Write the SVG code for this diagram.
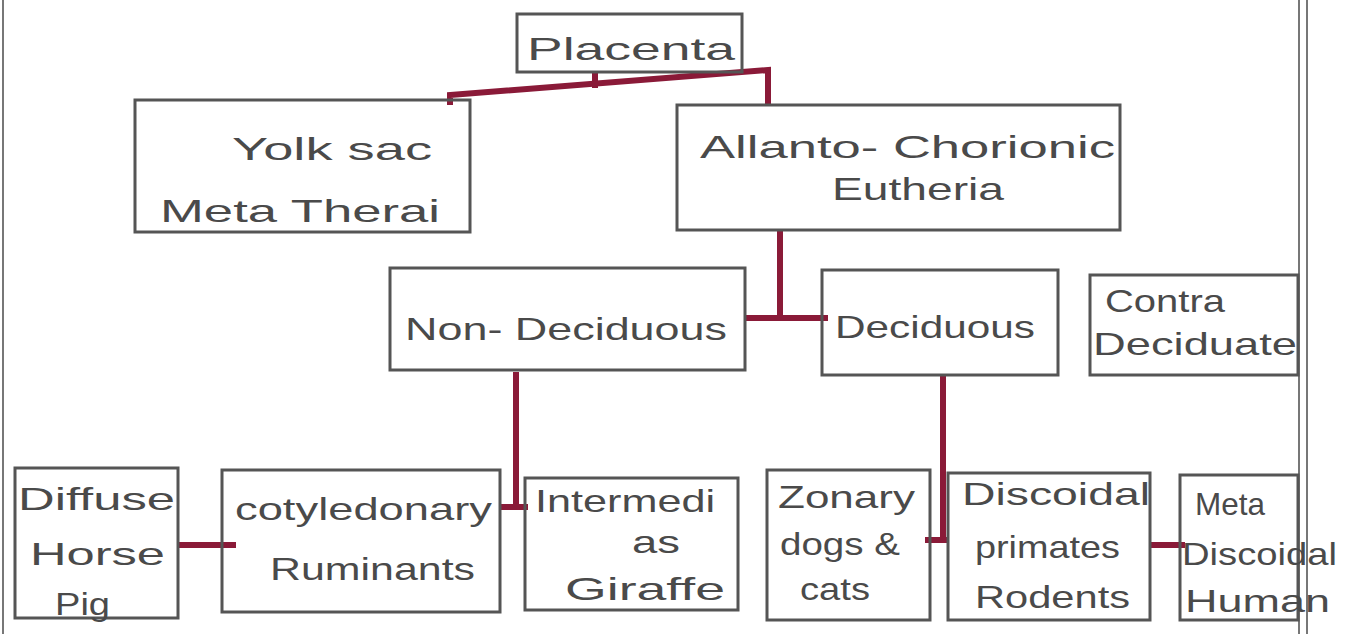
<svg xmlns="http://www.w3.org/2000/svg" width="1352" height="634" viewBox="0 0 1352 634">
  <style>
    .box { fill: none; stroke: #555; stroke-width: 3; }
    .lbl { font-family: "Liberation Sans", "DejaVu Sans", sans-serif; font-size: 32px; fill: #4a4a4a; }
    .link { fill: none; stroke: #8a1a38; stroke-width: 6; stroke-linejoin: miter; }
    .rule { stroke: #777; stroke-width: 2; }
  </style>
  <rect width="1352" height="634" fill="#ffffff"/>

  <!-- page margins -->
  <g id="page">
    <line class="rule" x1="3" y1="0" x2="3" y2="634"/>
    <line class="rule" x1="1299" y1="0" x2="1299" y2="634"/>
    <line class="rule" x1="1307" y1="0" x2="1307" y2="634"/>
  </g>

  <!-- connectors -->
  <g id="connectors">
    <path class="link" d="M595 72 V88"/>
    <path class="link" d="M450 105 V95 L768 70 V105"/>
    <path class="link" d="M780 230 V318"/>
    <path class="link" d="M745 318 H828"/>
    <path class="link" d="M516 372 V507"/>
    <path class="link" d="M500 507 H528"/>
    <path class="link" d="M943 375 V540"/>
    <path class="link" d="M925 540 H948"/>
    <path class="link" d="M178 545 H236"/>
    <path class="link" d="M1150 545 H1185"/>
  </g>

  <g id="placenta">
    <rect class="box" x="517" y="14" width="225" height="58"/>
    <text class="lbl" x="527" y="60" textLength="208" lengthAdjust="spacingAndGlyphs">Placenta</text>
  </g>

  <g id="yolk-sac">
    <rect class="box" x="135" y="100" width="335" height="132"/>
    <text class="lbl" x="232" y="160" textLength="200" lengthAdjust="spacingAndGlyphs">Yolk sac</text>
    <text class="lbl" x="160" y="222" textLength="280" lengthAdjust="spacingAndGlyphs">Meta Therai</text>
  </g>

  <g id="allanto-chorionic">
    <rect class="box" x="677" y="105" width="443" height="125"/>
    <text class="lbl" x="700" y="158" textLength="415" lengthAdjust="spacingAndGlyphs">Allanto- Chorionic</text>
    <text class="lbl" x="832" y="200" textLength="172" lengthAdjust="spacingAndGlyphs">Eutheria</text>
  </g>

  <g id="non-deciduous">
    <rect class="box" x="390" y="268" width="355" height="102"/>
    <text class="lbl" x="405" y="340" textLength="322" lengthAdjust="spacingAndGlyphs">Non- Deciduous</text>
  </g>

  <g id="deciduous">
    <rect class="box" x="822" y="270" width="236" height="105"/>
    <text class="lbl" x="835" y="338" textLength="200" lengthAdjust="spacingAndGlyphs">Deciduous</text>
  </g>

  <g id="contra-deciduate">
    <rect class="box" x="1090" y="275" width="208" height="100"/>
    <text class="lbl" x="1105" y="312" textLength="120" lengthAdjust="spacingAndGlyphs">Contra</text>
    <text class="lbl" x="1093" y="355" textLength="204" lengthAdjust="spacingAndGlyphs">Deciduate</text>
  </g>

  <g id="diffuse">
    <rect class="box" x="15" y="468" width="163" height="150"/>
    <text class="lbl" x="18" y="510" textLength="157" lengthAdjust="spacingAndGlyphs">Diffuse</text>
    <text class="lbl" x="30" y="565" textLength="135" lengthAdjust="spacingAndGlyphs">Horse</text>
    <text class="lbl" x="55" y="615" textLength="55" lengthAdjust="spacingAndGlyphs">Pig</text>
  </g>

  <g id="cotyledonary">
    <rect class="box" x="222" y="470" width="278" height="142"/>
    <text class="lbl" x="235" y="520" textLength="257" lengthAdjust="spacingAndGlyphs">cotyledonary</text>
    <text class="lbl" x="270" y="580" textLength="205" lengthAdjust="spacingAndGlyphs">Ruminants</text>
  </g>

  <g id="intermediate">
    <rect class="box" x="525" y="478" width="213" height="132"/>
    <text class="lbl" x="535" y="512" textLength="180" lengthAdjust="spacingAndGlyphs">Intermedi</text>
    <text class="lbl" x="632" y="553" textLength="48" lengthAdjust="spacingAndGlyphs">as</text>
    <text class="lbl" x="565" y="600" textLength="160" lengthAdjust="spacingAndGlyphs">Giraffe</text>
  </g>

  <g id="zonary">
    <rect class="box" x="767" y="470" width="163" height="150"/>
    <text class="lbl" x="778" y="508" textLength="137" lengthAdjust="spacingAndGlyphs">Zonary</text>
    <text class="lbl" x="780" y="555" textLength="120" lengthAdjust="spacingAndGlyphs">dogs &amp;</text>
    <text class="lbl" x="800" y="600" textLength="70" lengthAdjust="spacingAndGlyphs">cats</text>
  </g>

  <g id="discoidal">
    <rect class="box" x="948" y="473" width="202" height="147"/>
    <text class="lbl" x="962" y="505" textLength="188" lengthAdjust="spacingAndGlyphs">Discoidal</text>
    <text class="lbl" x="975" y="558" textLength="145" lengthAdjust="spacingAndGlyphs">primates</text>
    <text class="lbl" x="975" y="608" textLength="155" lengthAdjust="spacingAndGlyphs">Rodents</text>
  </g>

  <g id="meta-discoidal">
    <rect class="box" x="1180" y="475" width="118" height="145"/>
    <text class="lbl" x="1195" y="515" textLength="70" lengthAdjust="spacingAndGlyphs">Meta</text>
    <text class="lbl" x="1182" y="565" textLength="155" lengthAdjust="spacingAndGlyphs">Discoidal</text>
    <text class="lbl" x="1185" y="612" textLength="145" lengthAdjust="spacingAndGlyphs">Human</text>
  </g>
</svg>
